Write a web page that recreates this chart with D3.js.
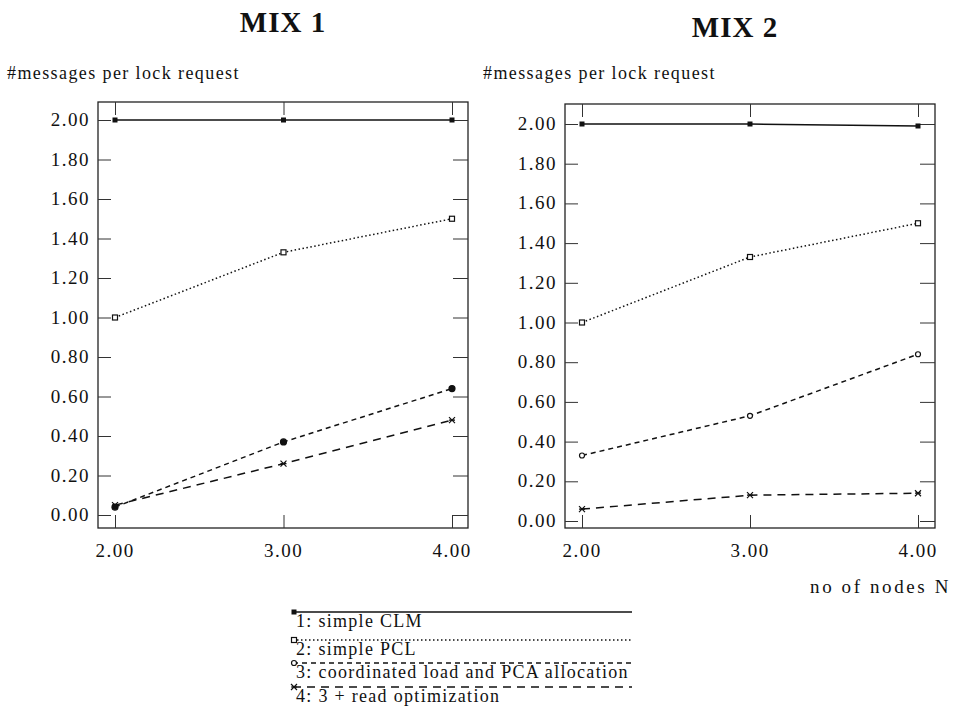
<!DOCTYPE html>
<html>
<head>
<meta charset="utf-8">
<script src="https://cdn.jsdelivr.net/npm/d3@7"></script>
<style>
  body { margin: 0; background: #fff; }
  svg { display: block; }
  text { font-family: "Liberation Serif", "Times New Roman", serif; fill: #111; }
</style>
</head>
<body>
<div id="chart"></div>
<script>
// data
const nodeCounts = [2, 3, 4];
const yTicks = [0, 0.2, 0.4, 0.6, 0.8, 1.0, 1.2, 1.4, 1.6, 1.8, 2.0];

const mix1CLM = [2.00, 2.00, 2.00];
const mix1PCL = [1.00, 1.33, 1.50];
const mix1Coord = [0.04, 0.37, 0.64];
const mix1Read = [0.05, 0.26, 0.48];

const mix2CLM = [2.00, 2.00, 1.99];
const mix2PCL = [1.00, 1.33, 1.50];
const mix2Coord = [0.33, 0.53, 0.84];
const mix2Read = [0.06, 0.13, 0.14];

const seriesNames = ['1: simple CLM', '2: simple PCL', '3: coordinated load and PCA allocation', '4: 3 + read optimization'];
const seriesDash = ['none', '1.5,2.5', '5,4', '8,6'];
const seriesMarker = ['fsquare', 'square', 'circle', 'cross'];

const width = 957, height = 724;
const svg = d3.select('#chart').append('svg')
    .attr('width', width)
    .attr('height', height);

const fmt = d3.format('.2f');

function drawMarker(g, type, x, y, filled) {
    if (type === 'fsquare') {
        g.append('rect').attr('x', x - 2.5).attr('y', y - 2.5).attr('width', 5).attr('height', 5)
            .attr('fill', '#111');
    } else if (type === 'square') {
        g.append('rect').attr('x', x - 2.5).attr('y', y - 2.5).attr('width', 5).attr('height', 5)
            .attr('fill', '#fff').attr('stroke', '#111').attr('stroke-width', 1.2);
    } else if (type === 'circle') {
        g.append('circle').attr('cx', x).attr('cy', y).attr('r', filled ? 3 : 2.5)
            .attr('fill', filled ? '#111' : '#fff').attr('stroke', '#111').attr('stroke-width', 1.2);
    } else {
        const s = 3;
        g.append('path')
            .attr('d', `M${x - s},${y - s}L${x + s},${y + s}M${x - s},${y + s}L${x + s},${y - s}M${x - s},${y}L${x + s},${y}`)
            .attr('stroke', '#111').attr('stroke-width', 1.2);
    }
}

function drawPanel(opts) {
    const g = svg.append('g');
    const x = d3.scaleLinear().domain([2, 4]).range(opts.xRange);
    const y = d3.scaleLinear().domain([0, 2]).range(opts.yRange);
    const [fl, fr] = opts.frameX;
    const [ft, fb] = opts.frameY;

    // title
    svg.append('text')
        .attr('x', opts.titleX).attr('y', opts.titleY)
        .attr('text-anchor', 'middle')
        .attr('font-size', '29px').attr('font-weight', 'bold')
        .attr('letter-spacing', '1px')
        .text(opts.title);

    svg.append('text')
        .attr('x', opts.labelX).attr('y', 79)
        .attr('font-size', '18px')
        .attr('letter-spacing', '1.4px')
        .text('#messages per lock request');

    g.append('rect')
        .attr('x', fl).attr('y', ft)
        .attr('width', fr - fl).attr('height', fb - ft)
        .attr('fill', 'none').attr('stroke', '#222').attr('stroke-width', 1.3);

    // y ticks, left and right, pointing inward
    const leftAxis = d3.axisRight(y).tickValues(yTicks).tickSize(13).tickFormat('');
    g.append('g').attr('transform', `translate(${fl},0)`).call(leftAxis)
        .call(a => a.select('.domain').remove());
    const rightAxis = d3.axisLeft(y).tickValues(yTicks).tickSize(15).tickFormat('');
    g.append('g').attr('transform', `translate(${fr},0)`).call(rightAxis)
        .call(a => a.select('.domain').remove());

    g.selectAll('.ylab')
        .data(yTicks)
        .join('text')
        .attr('class', 'ylab')
        .attr('x', fl - 8)
        .attr('y', d => y(d) + 6)
        .attr('text-anchor', 'end')
        .attr('font-size', '19px')
        .attr('letter-spacing', '1.5px')
        .text(d => fmt(d));

    // x ticks top and bottom
    const topAxis = d3.axisBottom(x).tickValues(nodeCounts).tickSize(13).tickFormat('');
    g.append('g').attr('transform', `translate(0,${ft})`).call(topAxis)
        .call(a => a.select('.domain').remove());
    const bottomAxis = d3.axisTop(x).tickValues(nodeCounts).tickSize(13).tickFormat('');
    g.append('g').attr('transform', `translate(0,${fb})`).call(bottomAxis)
        .call(a => a.select('.domain').remove());
    g.selectAll('.tick line').attr('stroke', '#333');

    g.selectAll('.xlab')
        .data(nodeCounts)
        .join('text')
        .attr('class', 'xlab')
        .attr('x', d => x(d))
        .attr('y', fb + 29)
        .attr('text-anchor', 'middle')
        .attr('font-size', '19px')
        .attr('letter-spacing', '1.5px')
        .text(d => fmt(d));

    const line = d3.line().x((d, i) => x(nodeCounts[i])).y(d => y(d));
    opts.series.forEach((vals, si) => {
        g.append('path')
            .datum(vals)
            .attr('d', line)
            .attr('fill', 'none')
            .attr('stroke', '#111')
            .attr('stroke-width', 1.5)
            .attr('stroke-dasharray', seriesDash[si]);
        vals.forEach((v, i) => drawMarker(g, seriesMarker[si], x(nodeCounts[i]), y(v), opts.filledCircles));
    });
}

drawPanel({
    title: 'MIX 1', titleX: 283, titleY: 32, labelX: 7,
    xRange: [115, 452], yRange: [515, 120],
    frameX: [98, 468], frameY: [102, 528],
    series: [mix1CLM, mix1PCL, mix1Coord, mix1Read],
    filledCircles: true
});

drawPanel({
    title: 'MIX 2', titleX: 735, titleY: 37, labelX: 483,
    xRange: [582, 918], yRange: [521, 124],
    frameX: [565, 935], frameY: [104, 528],
    series: [mix2CLM, mix2PCL, mix2Coord, mix2Read],
    filledCircles: false
});

svg.append('text')
    .attr('x', 951).attr('y', 593)
    .attr('text-anchor', 'end')
    .attr('font-size', '19px')
    .attr('letter-spacing', '2.6px')
    .text('no  of nodes N');

// legend
const legend = svg.append('g');
const legendX0 = 293, legendX1 = 632;
const legendY = [612, 640, 663, 687];
seriesNames.forEach((name, i) => {
    legend.append('line')
        .attr('x1', legendX0).attr('x2', legendX1)
        .attr('y1', legendY[i]).attr('y2', legendY[i])
        .attr('stroke', '#111').attr('stroke-width', 1.4)
        .attr('stroke-dasharray', seriesDash[i]);
    drawMarker(legend, seriesMarker[i], legendX0 + 1, legendY[i], false);
    legend.append('text')
        .attr('x', legendX0 + 3).attr('y', legendY[i] + 15)
        .attr('font-size', '18px')
        .attr('letter-spacing', '1.3px')
        .text(name);
});
</script>
</body>
</html>
